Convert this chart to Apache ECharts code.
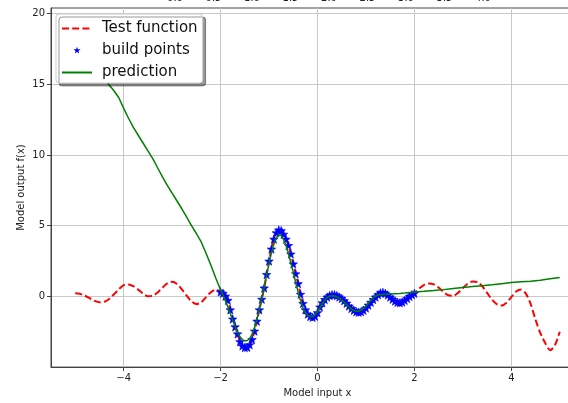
<!DOCTYPE html>
<html><head><meta charset="utf-8">
<script src="https://cdn.jsdelivr.net/npm/echarts@6/dist/echarts.min.js"></script>
<style>html,body{margin:0;padding:0;background:#fff;overflow:hidden;width:568px;height:403px}#c{width:620px;height:403px}</style>
</head><body><div id="c"></div><script>
// Test function samples
const testX = [
 -5.0,-4.9,-4.8,-4.7,-4.6,-4.5,-4.4,-4.3,-4.2,-4.1,-4.0,-3.9,-3.8,-3.7,-3.6,-3.5,-3.4,-3.3,-3.2,-3.1,
 -3.0,-2.9,-2.8,-2.7,-2.6,-2.5,-2.4,-2.3,-2.2,-2.1,
 -2.00,-1.95,-1.90,-1.85,-1.80,-1.75,-1.70,-1.65,-1.60,-1.55,-1.50,-1.45,-1.40,-1.35,-1.30,-1.25,-1.20,-1.15,-1.10,-1.05,
 -1.00,-0.95,-0.90,-0.85,-0.80,-0.75,-0.70,-0.65,-0.60,-0.55,-0.50,-0.45,-0.40,-0.35,-0.30,-0.25,-0.20,-0.15,-0.10,-0.05,
 0.00,0.05,0.10,0.15,0.20,0.25,0.30,0.35,0.40,0.45,0.50,0.55,0.60,0.65,0.70,0.75,0.80,0.85,0.90,0.95,
 1.00,1.05,1.10,1.15,1.20,1.25,1.30,1.35,1.40,1.45,1.50,1.55,1.60,1.65,1.70,1.75,1.80,1.85,1.90,1.95,2.00,
 2.1,2.2,2.3,2.4,2.5,2.6,2.7,2.8,2.9,3.0,3.1,3.2,3.3,3.4,3.5,3.6,3.7,3.8,3.9,4.0,
 4.1,4.2,4.3,4.4,4.5,4.6,4.7,4.8,4.9,5.0];
const testY = [
 0.22,0.18,0.05,-0.13,-0.32,-0.42,-0.38,-0.18,0.15,0.50,0.80,0.85,0.72,0.48,0.20,0.02,0.05,0.28,0.62,0.92,
 1.03,0.88,0.50,0.05,-0.35,-0.54,-0.42,-0.05,0.30,0.48,
 0.32,0.22,0.02,-0.28,-0.95,-1.60,-2.15,-2.65,-3.20,-3.50,-3.62,-3.60,-3.42,-3.05,-2.45,-1.75,-0.95,-0.20,0.60,1.55,
 2.50,3.35,4.05,4.50,4.70,4.65,4.40,4.05,3.60,3.00,2.30,1.60,0.90,0.15,-0.50,-0.95,-1.25,-1.42,-1.48,-1.40,
 -1.15,-0.75,-0.45,-0.22,-0.05,0.06,0.12,0.12,0.06,-0.04,-0.15,-0.30,-0.48,-0.68,-0.85,-0.98,-1.08,-1.12,-1.08,-0.98,
 -0.82,-0.62,-0.42,-0.22,-0.05,0.12,0.25,0.28,0.22,0.10,-0.05,-0.20,-0.33,-0.42,-0.45,-0.40,-0.28,-0.15,0.00,0.12,0.22,
 0.55,0.82,0.92,0.85,0.62,0.32,0.08,0.05,0.25,0.60,0.90,1.05,1.02,0.72,0.25,-0.22,-0.55,-0.65,-0.45,-0.05,
 0.35,0.48,0.20,-0.55,-1.65,-2.60,-3.30,-3.80,-3.45,-2.50];

// Build points
const buildX = [
 -2.00,-1.95,-1.90,-1.85,-1.80,-1.75,-1.70,-1.65,-1.60,-1.55,-1.50,-1.45,-1.40,-1.35,-1.30,-1.25,-1.20,-1.15,-1.10,-1.05,
 -1.00,-0.95,-0.90,-0.85,-0.80,-0.75,-0.70,-0.65,-0.60,-0.55,-0.50,-0.45,-0.40,-0.35,-0.30,-0.25,-0.20,-0.15,-0.10,-0.05,
 0.00,0.05,0.10,0.15,0.20,0.25,0.30,0.35,0.40,0.45,0.50,0.55,0.60,0.65,0.70,0.75,0.80,0.85,0.90,0.95,
 1.00,1.05,1.10,1.15,1.20,1.25,1.30,1.35,1.40,1.45,1.50,1.55,1.60,1.65,1.70,1.75,1.80,1.85,1.90,1.95,2.00];
const buildY = [
 0.32,0.22,0.02,-0.28,-0.95,-1.60,-2.15,-2.65,-3.20,-3.50,-3.62,-3.60,-3.42,-3.05,-2.45,-1.75,-0.95,-0.20,0.60,1.55,
 2.50,3.35,4.05,4.50,4.70,4.65,4.40,4.05,3.60,3.00,2.30,1.60,0.90,0.15,-0.50,-0.95,-1.25,-1.42,-1.48,-1.40,
 -1.15,-0.75,-0.45,-0.22,-0.05,0.06,0.12,0.12,0.06,-0.04,-0.15,-0.30,-0.48,-0.68,-0.85,-0.98,-1.08,-1.12,-1.08,-0.98,
 -0.82,-0.62,-0.42,-0.22,-0.05,0.12,0.25,0.28,0.22,0.10,-0.05,-0.20,-0.33,-0.42,-0.45,-0.40,-0.28,-0.15,0.00,0.12,0.22];

// Prediction
const predX = [
 -5.0,-4.9,-4.8,-4.7,-4.6,-4.5,-4.4,-4.3,-4.2,-4.1,-4.0,-3.9,-3.8,-3.7,-3.6,-3.5,-3.4,-3.3,-3.2,-3.1,
 -3.0,-2.9,-2.8,-2.7,-2.6,-2.5,-2.4,-2.3,-2.2,-2.1,
 -2.00,-1.95,-1.90,-1.85,-1.80,-1.75,-1.70,-1.65,-1.60,-1.55,-1.50,-1.45,-1.40,-1.35,-1.30,-1.25,-1.20,-1.15,-1.10,-1.05,
 -1.00,-0.95,-0.90,-0.85,-0.80,-0.75,-0.70,-0.65,-0.60,-0.55,-0.50,-0.45,-0.40,-0.35,-0.30,-0.25,-0.20,-0.15,-0.10,-0.05,
 0.00,0.05,0.10,0.15,0.20,0.25,0.30,0.35,0.40,0.45,0.50,0.55,0.60,0.65,0.70,0.75,0.80,0.85,0.90,0.95,
 1.00,1.05,1.10,1.15,1.20,1.25,1.30,
 1.4,1.5,1.6,1.7,1.8,1.9,2.0,2.2,2.4,2.6,2.8,3.0,3.2,3.4,3.6,3.8,4.0,4.2,4.4,4.6,4.8,5.0];
const predY = [
 19.2,18.6,18.0,17.35,16.75,16.1,15.5,14.95,14.55,14.05,13.3,12.6,11.95,11.4,10.85,10.3,9.75,9.1,8.45,7.85,
 7.3,6.75,6.2,5.6,5.0,4.45,3.85,3.05,2.2,1.3,
 0.45,0.10,-0.30,-0.75,-1.20,-1.70,-2.15,-2.55,-2.85,-3.05,-3.15,-3.12,-2.98,-2.68,-2.22,-1.62,-0.92,-0.15,0.65,1.50,
 2.35,3.10,3.70,4.15,4.35,4.30,4.05,3.60,3.05,2.40,1.70,1.00,0.30,-0.30,-0.80,-1.15,-1.35,-1.42,-1.42,-1.32,
 -1.10,-0.80,-0.50,-0.25,-0.08,0.02,0.05,0.03,-0.03,-0.12,-0.25,-0.40,-0.58,-0.75,-0.90,-1.00,-1.05,-1.05,-0.98,-0.85,
 -0.68,-0.48,-0.28,-0.10,0.03,0.10,0.13,
 0.15,0.17,0.19,0.21,0.24,0.28,0.32,0.36,0.41,0.48,0.56,0.63,0.70,0.76,0.82,0.90,0.98,1.03,1.08,1.14,1.25,1.33];

const xTicks = [-4, -2, 0, 2, 4];
const yTicks = [0, 5, 10, 15, 20];
const topClippedLabels = ['0.0','0.5','1.0','1.5','2.0','2.5','3.0','3.5','4.0'];
const seriesNames = ['Test function', 'build points', 'prediction'];

const zip = (xs, ys) => xs.map((x, i) => [x, ys[i]]);
const minus = v => String(v).replace('-', '\u2212');
const starBody = 'M0,-10L2.35,-3.24L9.51,-3.09L3.8,1.24L5.88,8.09L0,4L-5.88,8.09L-3.8,1.24L-9.51,-3.09L-2.35,-3.24Z';
const star = 'path://' + starBody;
// same star, with two zero-area corner marks so the legend icon is drawn a bit smaller
const starLegend = 'path://M-12,-12L-12,-11.9999L-11.9999,-12Z' + starBody + 'M12,12L12,11.9999L11.9999,12Z';

const chart = echarts.init(document.getElementById('c'), null, {renderer: 'canvas'});
const axisCol = '#444';
const txtCol = '#222';
chart.setOption({
  animation: false,
  backgroundColor: '#fff',
  textStyle: {fontFamily: 'DejaVu Sans'},
  grid: {left: 51, top: 8, width: 533, height: 363, show: true, borderColor: axisCol, borderWidth: 1, backgroundColor: 'transparent'},
  graphic: topClippedLabels.map((t, i) => ({
    type: 'text', x: 175 + i * 38.5, y: 3.5,
    style: {text: t, fontSize: 10, fill: txtCol, align: 'center', verticalAlign: 'bottom', fontFamily: 'DejaVu Sans'}
  })),
  xAxis: {
    type: 'value', min: -5.5, max: 5.5, splitNumber: 5,
    name: 'Model input x', nameLocation: 'middle', nameGap: 19,
    nameTextStyle: {fontSize: 10, color: txtCol},
    axisLine: {show: true, onZero: false, lineStyle: {color: axisCol}},
    axisTick: {show: true, inside: false, length: 4, customValues: xTicks, lineStyle: {color: axisCol}},
    axisLabel: {fontSize: 10, color: txtCol, margin: 6, customValues: xTicks, formatter: minus},
    splitLine: {show: true, lineStyle: {color: '#c8c8c8', width: 1}}
  },
  yAxis: {
    type: 'value', min: -5, max: 20.4, interval: 5,
    name: 'Model output f(x)', nameLocation: 'middle', nameGap: 25, nameRotate: 90, nameMoveOverlap: false,
    nameTextStyle: {fontSize: 10, color: txtCol},
    axisLine: {show: true, onZero: false, lineStyle: {color: axisCol}},
    axisTick: {show: true, inside: false, length: 4, customValues: yTicks, lineStyle: {color: axisCol}},
    axisLabel: {fontSize: 10, color: txtCol, margin: 6, customValues: yTicks, formatter: minus},
    splitLine: {show: true, lineStyle: {color: '#c8c8c8', width: 1}}
  },
  legend: {
    orient: 'vertical', left: 56, top: 14, z: 20,
    padding: [7, 5, 3, 5], itemGap: 7, itemWidth: 30, itemHeight: 9,
    backgroundColor: '#ffffff', borderColor: '#cccccc', borderWidth: 1, borderRadius: 3,
    shadowColor: 'rgba(0,0,0,0.4)', shadowOffsetX: 3, shadowOffsetY: 3, shadowBlur: 0,
    textStyle: {fontSize: 15, color: '#111', fontFamily: 'DejaVu Sans', padding: [0, 0, 0, 5]},
    data: [
      seriesNames[0],
      {name: seriesNames[1], icon: starLegend, itemStyle: {borderWidth: 0, borderColor: 'rgba(0,0,0,0)'}},
      seriesNames[2]
    ]
  },
  series: [
    {
      name: seriesNames[0], type: 'line', data: zip(testX, testY), showSymbol: false, symbol: 'circle',
      smooth: 0.3, lineStyle: {color: '#ff0000', width: 2, type: [7, 3.2]},
      itemStyle: {color: 'rgba(0,0,0,0)', borderWidth: 0}, z: 2
    },
    {
      name: seriesNames[1], type: 'scatter', data: zip(buildX, buildY), symbol: star, symbolSize: 8.5,
      itemStyle: {color: '#0000ff', borderColor: '#0000ff', borderWidth: 0.6, opacity: 1}, z: 3
    },
    {
      name: seriesNames[2], type: 'line', data: zip(predX, predY), showSymbol: false, symbol: 'circle',
      lineStyle: {color: '#008000', width: 1.5},
      itemStyle: {color: 'rgba(0,0,0,0)', borderWidth: 0}, z: 4
    }
  ]
});
</script></body></html>
